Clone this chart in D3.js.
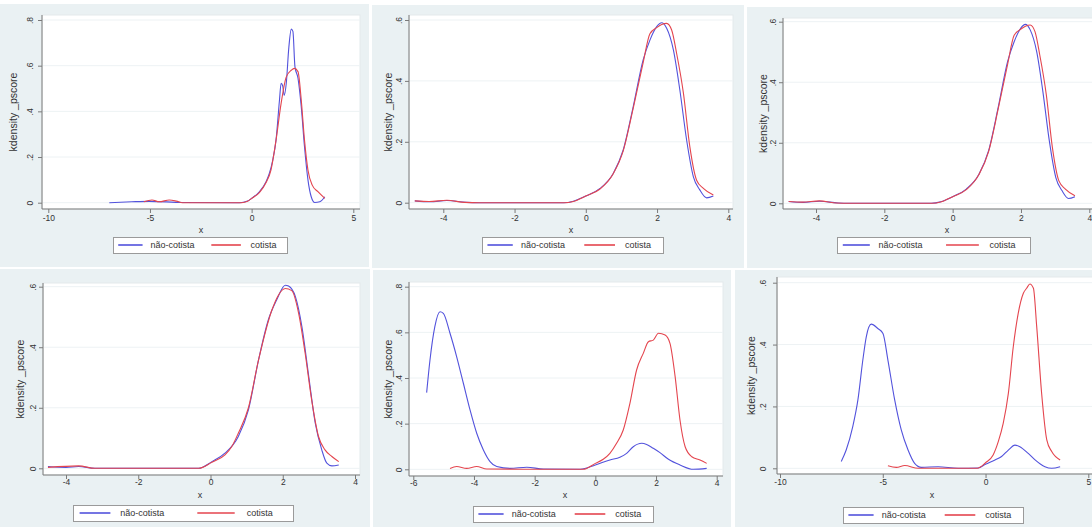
<!DOCTYPE html>
<html>
<head>
<meta charset="utf-8">
<script src="https://cdn.jsdelivr.net/npm/d3@7"></script>
<style>
  body { margin: 0; background: #fff; }
  svg { display: block; }
  text { font-family: "Liberation Sans", Arial, sans-serif; fill: #333; }
</style>
</head>
<body>
<div id="chart"></div>
<script>
var canvas_width = 1092,
    canvas_height = 527;

// series values: [x, density]
var naoCotista1 = [[-7.0, 0], [-5.9, 0.004], [-5.05, 0.006], [-3.4, 0.001], [-0.6, 0], [-0.2, 0.007], [0, 0.019],
    [0.38, 0.048], [0.71, 0.092], [0.87, 0.128], [1.04, 0.187], [1.2, 0.274], [1.37, 0.45], [1.45, 0.523],
    [1.53, 0.511], [1.6, 0.47], [1.7, 0.52], [1.83, 0.68], [1.95, 0.76], [2.03, 0.75], [2.13, 0.596],
    [2.28, 0.545], [2.44, 0.42], [2.6, 0.245], [2.77, 0.1], [2.93, 0.026], [3.1, 0.001], [3.35, 0.004], [3.6, 0.026]];
var cotista1 = [[-5.3, 0.004], [-4.9, 0.012], [-4.55, 0.004], [-4.05, 0.012], [-3.7, 0.007], [-3.4, 0], [-0.5, 0],
    [-0.2, 0.006], [0, 0.019], [0.38, 0.044], [0.71, 0.088], [0.95, 0.143], [1.2, 0.274], [1.45, 0.435],
    [1.7, 0.55], [1.95, 0.58], [2.1, 0.588], [2.28, 0.574], [2.44, 0.45], [2.6, 0.274], [2.77, 0.143],
    [2.98, 0.077], [3.26, 0.048], [3.6, 0.019]];

var naoCotista2 = [[-4.8, 0.006], [-4.37, 0.003], [-3.9, 0.007], [-3.35, 0.001], [-3.0, 0], [-0.63, 0],
    [-0.35, 0.005], [0, 0.022], [0.4, 0.047], [0.77, 0.096], [1.05, 0.173], [1.33, 0.315], [1.61, 0.469],
    [1.8, 0.534], [1.99, 0.578], [2.13, 0.591], [2.27, 0.573], [2.46, 0.501], [2.64, 0.37], [2.83, 0.206],
    [3.02, 0.085], [3.2, 0.042], [3.39, 0.016], [3.58, 0.022]];
var cotista2 = [[-4.8, 0.006], [-4.4, 0.004], [-3.9, 0.008], [-3.4, 0.001], [-3.0, 0], [-0.6, 0],
    [-0.35, 0.004], [0, 0.022], [0.4, 0.045], [0.77, 0.095], [1.05, 0.17], [1.33, 0.31], [1.61, 0.46],
    [1.8, 0.555], [1.99, 0.575], [2.13, 0.585], [2.27, 0.589], [2.41, 0.567], [2.55, 0.49], [2.74, 0.36],
    [2.92, 0.184], [3.11, 0.074], [3.3, 0.047], [3.58, 0.025]];

var naoCotista4 = [[-4.5, 0.006], [-4.0, 0.003], [-3.65, 0.006], [-3.2, 0], [-0.33, 0], [0.04, 0.022],
    [0.4, 0.05], [0.77, 0.105], [1.05, 0.193], [1.33, 0.358], [1.6, 0.49], [1.83, 0.556], [2.07, 0.605],
    [2.16, 0.602], [2.35, 0.567], [2.53, 0.468], [2.72, 0.303], [2.9, 0.149], [3.08, 0.061], [3.22, 0.017],
    [3.36, 0.008], [3.55, 0.011]];
var cotista4 = [[-4.5, 0.003], [-3.65, 0.008], [-3.2, 0], [-0.33, 0], [0.04, 0.02], [0.4, 0.044],
    [0.59, 0.072], [0.77, 0.116], [1.05, 0.2], [1.33, 0.358], [1.7, 0.523], [1.88, 0.572], [2.07, 0.594],
    [2.25, 0.587], [2.44, 0.512], [2.62, 0.38], [2.8, 0.226], [2.99, 0.105], [3.17, 0.061], [3.36, 0.039],
    [3.55, 0.022]];

var naoCotista5 = [[-5.56, 0.336], [-5.45, 0.479], [-5.29, 0.625], [-5.12, 0.69], [-5.01, 0.683],
    [-4.79, 0.596], [-4.57, 0.493], [-4.35, 0.377], [-4.13, 0.26], [-3.91, 0.158], [-3.69, 0.085],
    [-3.47, 0.034], [-3.25, 0.012], [-2.81, 0.004], [-2.26, 0.009], [-1.71, 0.001], [-0.5, 0], [0, 0.019],
    [0.48, 0.041], [0.81, 0.053], [1.03, 0.07], [1.25, 0.099], [1.53, 0.114], [1.69, 0.109], [1.91, 0.092],
    [2.13, 0.073], [2.41, 0.044], [2.79, 0.019], [3.23, 0], [3.67, 0.004]];
var cotista5 = [[-4.79, 0.004], [-4.57, 0.012], [-4.24, 0.004], [-3.91, 0.012], [-3.58, 0.001], [-0.4, 0],
    [0, 0.026], [0.26, 0.044], [0.48, 0.07], [0.7, 0.114], [0.92, 0.172], [1.14, 0.289], [1.36, 0.435],
    [1.58, 0.508], [1.75, 0.559], [1.91, 0.566], [2.08, 0.596], [2.3, 0.588], [2.46, 0.552], [2.63, 0.406],
    [2.79, 0.216], [2.96, 0.099], [3.18, 0.055], [3.45, 0.041], [3.67, 0.026]];

var naoCotista6 = [[-7.02, 0.022], [-6.78, 0.059], [-6.46, 0.135], [-6.21, 0.221], [-5.97, 0.35],
    [-5.8, 0.426], [-5.56, 0.466], [-5.24, 0.452], [-4.99, 0.436], [-4.75, 0.35], [-4.42, 0.221],
    [-4.1, 0.124], [-3.77, 0.059], [-3.45, 0.016], [-3.12, 0.003], [-2.31, 0.005], [-1.33, 0], [-0.36, 0.001],
    [0, 0.013], [0.46, 0.027], [0.78, 0.038], [1.11, 0.059], [1.43, 0.075], [1.67, 0.07], [2.08, 0.048],
    [2.41, 0.027], [2.89, 0.005], [3.22, 0], [3.63, 0.005]];
var cotista6 = [[-4.75, 0.008], [-4.34, 0.003], [-3.93, 0.009], [-3.28, 0], [-0.4, 0], [0, 0.018],
    [0.37, 0.043], [0.62, 0.086], [0.86, 0.145], [1.11, 0.242], [1.35, 0.393], [1.59, 0.501], [1.84, 0.566],
    [2.0, 0.582], [2.16, 0.596], [2.33, 0.582], [2.49, 0.458], [2.73, 0.242], [2.98, 0.092], [3.22, 0.054],
    [3.63, 0.027]];

// tick labels
var xTicksWide = [-10, -5, 0, 5];
var xTicksNarrow = [-4, -2, 0, 2, 4];
var xTicksSix = [-6, -4, -2, 0, 2, 4];
var yTicksEight = [0, 0.2, 0.4, 0.6, 0.8];
var yTicksSix = [0, 0.2, 0.4, 0.6];

var seriesNames = ["não-cotista", "cotista"];
var colorScale = d3.scaleOrdinal()
    .domain(seriesNames)
    .range(["#5252dc", "#e4454e"]);

// layout of the six stata panels
var panels = [
    { bg: [0, 4, 369, 263], plot: [42, 15, 318, 194], xr: [48.3, 353.3], yr: [202.7, 20],
      xTicks: xTicksWide, yTicks: yTicksEight, labX: 30, titleX: 13, xLabY: 218, xTitle: [201, 230],
      legend: [113, 237, 174, 16], data: [naoCotista1, cotista1] },
    { bg: [372, 5, 372, 263], plot: [409, 15, 324, 194], xr: [443.3, 728.3], yr: [202.7, 20],
      xTicks: xTicksNarrow, yTicks: yTicksSix, labX: 399, titleX: 388, xLabY: 218, xTitle: [571, 230],
      legend: [482, 237, 181, 16], data: [naoCotista2, cotista2] },
    { bg: [747, 7, 345, 261], plot: [783, 18, 330, 191], xr: [816, 1089.3], yr: [203.3, 21.7],
      xTicks: xTicksNarrow, yTicks: yTicksSix, labX: 773, titleX: 763, xLabY: 218.5, xTitle: [947, 230],
      legend: [837, 237, 193, 16], data: [naoCotista2, cotista2] },
    { bg: [0, 269, 370, 258], plot: [43, 283, 317, 192], xr: [66, 355], yr: [468.3, 286.7],
      xTicks: xTicksNarrow, yTicks: yTicksSix, labX: 33, titleX: 20, xLabY: 482, xTitle: [200, 495],
      legend: [73, 505, 220, 16], data: [naoCotista4, cotista4] },
    { bg: [373, 270, 358, 257], plot: [409, 282, 314, 194], xr: [413.3, 716.7], yr: [469.3, 286.7],
      xTicks: xTicksSix, yTicks: yTicksEight, labX: 399, titleX: 388, xLabY: 483, xTitle: [565, 495],
      legend: [473, 506, 180, 16], data: [naoCotista5, cotista5] },
    { bg: [735, 270, 357, 257], plot: [777, 277, 330, 197], xr: [780, 1088.3], yr: [468.3, 282.7],
      xTicks: xTicksWide, yTicks: yTicksSix, labX: 763, titleX: 751, xLabY: 482, xTitle: [932, 495],
      legend: [843, 507, 180, 16], data: [naoCotista6, cotista6] }
];

var svg = d3
    .select("div#chart")
    .append("svg")
    .attr("width", canvas_width)
    .attr("height", canvas_height);

function yLabel(d) {
    return d === 0 ? "0" : d3.format(".1f")(d).replace(/^0/, "");
}

function renderPanel(p, i) {
    var g = svg.append("g").attr("class", "panel-" + i);
    var px = p.plot[0], py = p.plot[1], pw = p.plot[2], ph = p.plot[3];

    // graph region
    g.append("rect")
        .attr("x", p.bg[0]).attr("y", p.bg[1])
        .attr("width", p.bg[2]).attr("height", p.bg[3])
        .attr("fill", "#eaf1f3");

    // plot region
    g.append("rect")
        .attr("x", px).attr("y", py)
        .attr("width", pw).attr("height", ph)
        .attr("fill", "#fff")
        .attr("stroke", "#e3eaec")
        .attr("stroke-width", 1);

    var lastX = p.xTicks[p.xTicks.length - 1], lastY = p.yTicks[p.yTicks.length - 1];
    var xScale = d3.scaleLinear().domain([p.xTicks[0], lastX]).range(p.xr);
    var yScale = d3.scaleLinear().domain([0, lastY]).range(p.yr);

    // gridlines
    g.selectAll(".grid")
        .data(p.yTicks)
        .enter()
        .append("line")
        .attr("x1", px).attr("x2", px + pw)
        .attr("y1", d => yScale(d)).attr("y2", d => yScale(d))
        .attr("stroke", "#edf2f4")
        .attr("stroke-width", 1);

    // clip for curves
    var clipId = "clip" + i;
    g.append("clipPath").attr("id", clipId)
        .append("rect")
        .attr("x", px).attr("y", py)
        .attr("width", Math.min(pw, canvas_width - px)).attr("height", ph);

    var line = d3.line()
        .x(d => xScale(d[0]))
        .y(d => yScale(d[1]))
        .curve(d3.curveMonotoneX);

    g.append("g")
        .attr("clip-path", "url(#" + clipId + ")")
        .selectAll(".curve")
        .data(p.data)
        .enter()
        .append("path")
        .attr("fill", "none")
        .attr("stroke", (d, k) => colorScale(seriesNames[k]))
        .attr("stroke-width", 1.1)
        .attr("d", d => line(d));

    // axes
    var xAxis = g.append("g")
        .attr("transform", "translate(0," + (py + ph) + ")")
        .call(d3.axisBottom(xScale).tickValues(p.xTicks).tickSize(4).tickFormat(d => String(d)));
    xAxis.select(".domain").remove();
    xAxis.selectAll(".tick line").attr("stroke", "#7a7a7a");
    xAxis.selectAll(".tick text")
        .attr("y", p.xLabY - (py + ph))
        .attr("dy", "0.35em")
        .style("font-size", "8.5px");
    xAxis.append("line")
        .attr("x1", px).attr("x2", px + pw)
        .attr("stroke", "#7a7a7a");

    var yAxis = g.append("g")
        .attr("transform", "translate(" + px + ",0)")
        .call(d3.axisLeft(yScale).tickValues(p.yTicks).tickSize(4).tickFormat(yLabel));
    yAxis.select(".domain").remove();
    yAxis.selectAll(".tick line").attr("stroke", "#7a7a7a");
    yAxis.selectAll(".tick text")
        .attr("x", 0).attr("y", 0)
        .attr("dy", "0.35em")
        .attr("text-anchor", "middle")
        .attr("transform", "translate(" + (p.labX - px) + ",0) rotate(-90)")
        .style("font-size", "8.5px");
    yAxis.append("line")
        .attr("y1", py).attr("y2", py + ph)
        .attr("stroke", "#7a7a7a");

    // axis titles
    g.append("text")
        .attr("transform", "translate(" + p.titleX + "," + (py + ph / 2) + ") rotate(-90)")
        .attr("text-anchor", "middle")
        .attr("dy", "0.35em")
        .style("font-size", "10.5px")
        .text("kdensity _pscore");

    g.append("text")
        .attr("x", p.xTitle[0]).attr("y", p.xTitle[1])
        .attr("text-anchor", "middle")
        .attr("dy", "0.35em")
        .style("font-size", "9px")
        .text("x");

    // legend
    var lx = p.legend[0], ly = p.legend[1], lw = p.legend[2], lh = p.legend[3];
    var midY = Math.round(ly + lh / 2);
    var lg = g.append("g");
    lg.append("rect")
        .attr("x", lx + 0.5).attr("y", ly + 0.5)
        .attr("width", lw).attr("height", lh)
        .attr("fill", "#fff")
        .attr("stroke", "#9a9a9a");
    var keyStart = [0.03, 0.565], keyEnd = [0.17, 0.735], textStart = [0.215, 0.79];
    seriesNames.forEach(function (name, k) {
        lg.append("line")
            .attr("x1", lx + lw * keyStart[k]).attr("x2", lx + lw * keyEnd[k])
            .attr("y1", midY).attr("y2", midY)
            .attr("stroke", colorScale(name))
            .attr("stroke-width", 1.6);
        lg.append("text")
            .attr("x", lx + lw * textStart[k]).attr("y", midY)
            .attr("dy", "0.35em")
            .style("font-size", "9px")
            .text(name);
    });
}

panels.forEach(renderPanel);
</script>
</body>
</html>
